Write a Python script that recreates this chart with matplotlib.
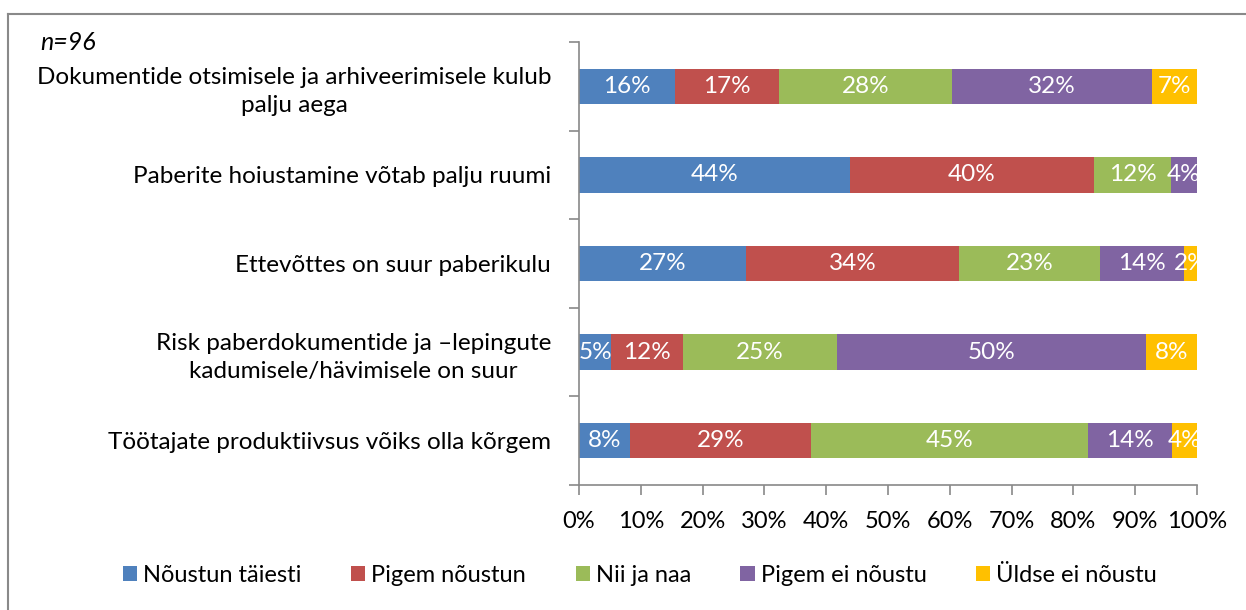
import numpy as np
import matplotlib
matplotlib.use("Agg")
import matplotlib.pyplot as plt
from matplotlib.lines import Line2D

plt.rcParams['font.family'] = ['Lato', 'DejaVu Sans']

# Andmed (protsent vastajatest, n=96)
categories = [
    "Dokumentide otsimisele ja arhiveerimisele kulub\npalju aega",
    "Paberite hoiustamine võtab palju ruumi",
    "Ettevõttes on suur paberikulu",
    "Risk paberdokumentide ja –lepingute\nkadumisele/hävimisele on suur",
    "Töötajate produktiivsus võiks olla kõrgem",
]
series_names = ["Nõustun täiesti", "Pigem nõustun", "Nii ja naa", "Pigem ei nõustu", "Üldse ei nõustu"]
noustun_taiesti = [15.6, 43.8, 27.1, 5.2, 8.3]
pigem_noustun = [16.7, 39.6, 34.4, 11.6, 29.2]
nii_ja_naa = [28.1, 12.4, 22.8, 24.9, 44.8]
pigem_ei_noustu = [32.3, 4.2, 13.6, 50.0, 13.6]
uldse_ei_noustu = [7.3, 0.0, 2.1, 8.3, 4.1]
x_ticks = [0, 10, 20, 30, 40, 50, 60, 70, 80, 90, 100]

colors = ["#4F81BD", "#C0504D", "#9BBB59", "#8064A2", "#FFC000"]

series = [noustun_taiesti, pigem_noustun, nii_ja_naa, pigem_ei_noustu, uldse_ei_noustu]

fig = plt.figure(figsize=(12.46, 6.10), dpi=100)
ax = fig.add_axes([579 / 1246, 1 - 485 / 610, (1197 - 579) / 1246, (485 - 42) / 610])

y = np.arange(len(categories))
left = np.zeros(len(categories))
for name, vals, col in zip(series_names, series, colors):
    pct = np.array(vals)
    bars = ax.barh(y, pct, left=left, height=0.4, color=col, label=name)
    for b, p in zip(bars, pct):
        if p > 0:
            ax.text(b.get_x() + b.get_width() / 2, b.get_y() + b.get_height() / 2,
                    "%.0f%%" % p, ha="center", va="center", color="white", fontsize=17.5)
    left += pct

ax.set_xlim(0, 100)
ax.set_ylim(len(categories) - 0.5, -0.5)
ax.set_xticks(x_ticks)
ax.set_xticklabels(["%d%%" % t for t in x_ticks], fontsize=17)
ax.set_yticks(y)
ax.set_yticklabels(categories, fontsize=17.5, multialignment="center", linespacing=1.4)
ax.set_yticks(np.arange(-0.5, len(categories)), minor=True)
ax.tick_params(axis="y", which="major", length=0, pad=20)
ax.tick_params(axis="y", which="minor", length=7, color="#898989", width=1.2)
ax.tick_params(axis="x", length=7, color="#898989", width=1.2, pad=12)

for s in ["top", "right"]:
    ax.spines[s].set_visible(False)
for s in ["left", "bottom"]:
    ax.spines[s].set_color("#898989")
    ax.spines[s].set_linewidth(1.2)

fig.text(40 / 1246, 1 - 43 / 610, "n=96", fontsize=18, style="italic", va="center", ha="left")

ax.legend(loc="center", bbox_to_anchor=(640 / 1246, 1 - 575 / 610),
          bbox_transform=fig.transFigure, ncol=5, frameon=False, fontsize=17,
          handlelength=0.6, handleheight=0.6, handletextpad=0.25, columnspacing=2.1)

# raam ümber joonise
fig.add_artist(Line2D([8 / 1246, 8 / 1246], [0, 1 - 14 / 610], transform=fig.transFigure,
                      color="#898989", lw=1.5))
fig.add_artist(Line2D([8 / 1246, 1], [1 - 14 / 610, 1 - 14 / 610], transform=fig.transFigure,
                      color="#898989", lw=1.5))

fig.savefig("out.png", dpi=100, facecolor="white")
